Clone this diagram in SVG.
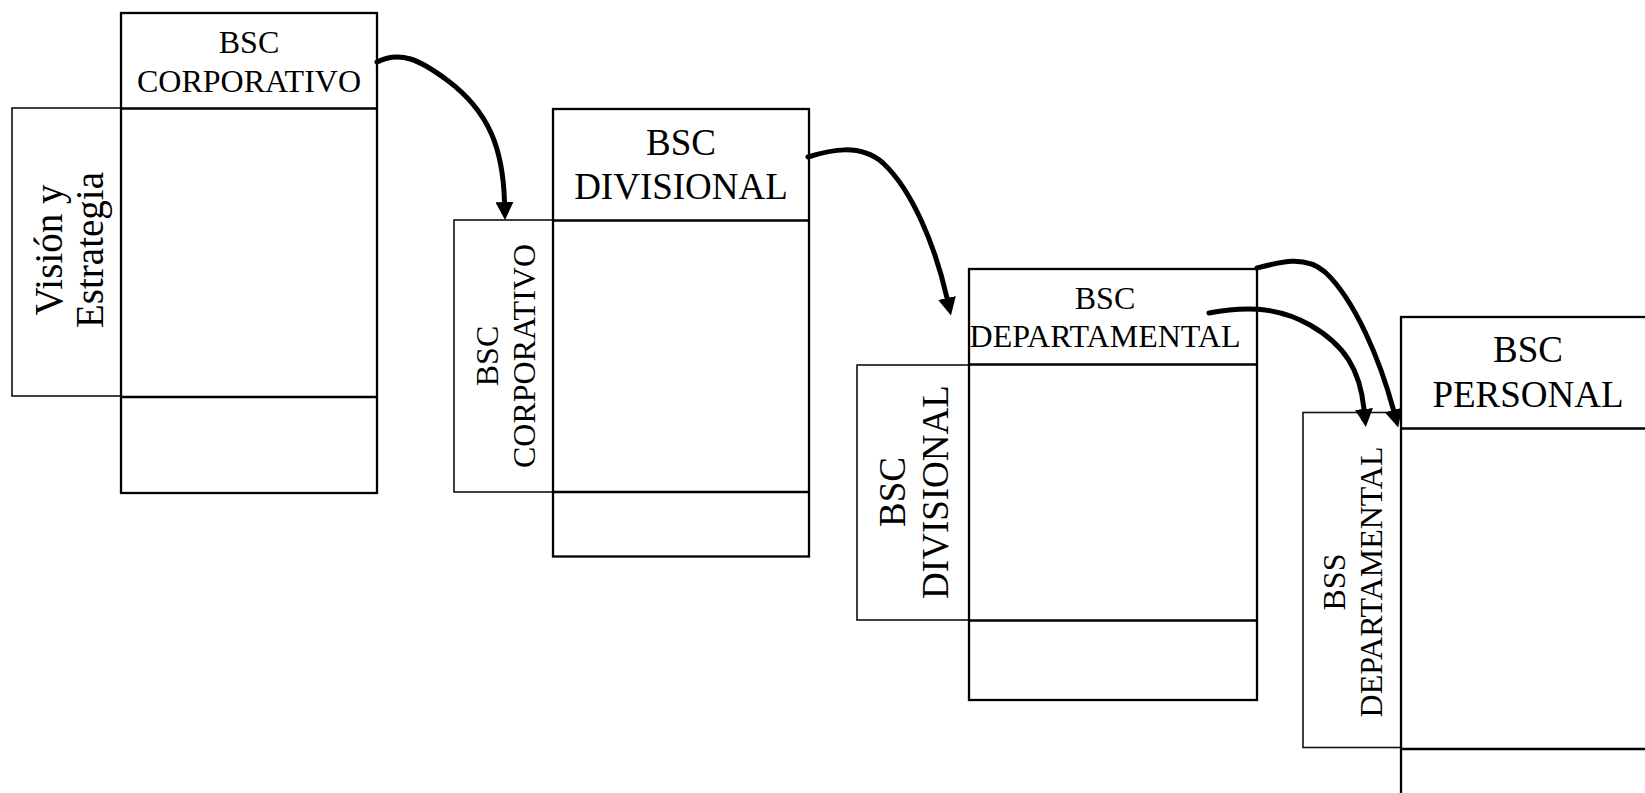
<svg xmlns="http://www.w3.org/2000/svg" width="1645" height="793" viewBox="0 0 1645 793">
<defs>
<style>
.main{fill:#fff;stroke:#000;stroke-width:2.3}
.side{fill:#fff;stroke:#111;stroke-width:1.6}
.div{stroke:#000;stroke-width:2.3}
.t{font-family:"Liberation Serif","Times New Roman",serif;fill:#000;text-anchor:middle}
.s32{font-size:32px}
.s37{font-size:37px}
.s38{font-size:39px}
.arr{fill:none;stroke:#000;stroke-width:5;stroke-linecap:round}
</style>
<marker id="ah" viewBox="0 0 18 18" refX="0" refY="9" markerWidth="18" markerHeight="18" markerUnits="userSpaceOnUse" orient="auto">
<path d="M0,0 L18,9 L0,18 z" fill="#000"/>
</marker>
</defs>
<rect width="1645" height="793" fill="#fff"/>

<g id="node-corporativo">
<rect class="side" x="12" y="108" width="109" height="288"/>
<rect class="main" x="121" y="13" width="256" height="480"/>
<line class="div" x1="121" y1="108.5" x2="377" y2="108.5"/>
<line class="div" x1="121" y1="397" x2="377" y2="397"/>
<text class="t s32" x="249" y="53">BSC</text>
<text class="t s32" x="249" y="92">CORPORATIVO</text>
<g transform="translate(62,250) rotate(-90)">
<text class="t s38" x="0" y="0">Visión y</text>
<text class="t s38" x="0" y="41">Estrategia</text>
</g>
</g>

<g id="node-divisional">
<rect class="side" x="454" y="220" width="99" height="272"/>
<rect class="main" x="553" y="109" width="256" height="447.5"/>
<line class="div" x1="553" y1="220.5" x2="809" y2="220.5"/>
<line class="div" x1="553" y1="492" x2="809" y2="492"/>
<text class="t s37" x="681" y="155">BSC</text>
<text class="t s37" x="681" y="199">DIVISIONAL</text>
<g transform="translate(498,356) rotate(-90)">
<text class="t s32" x="0" y="0">BSC</text>
<text class="t s32" x="0" y="37">CORPORATIVO</text>
</g>
</g>

<g id="node-departamental">
<rect class="side" x="857" y="365" width="112" height="255"/>
<rect class="main" x="969" y="269" width="288" height="431"/>
<line class="div" x1="969" y1="364.5" x2="1257" y2="364.5"/>
<line class="div" x1="969" y1="620.5" x2="1257" y2="620.5"/>
<text class="t s32" x="1105" y="309">BSC</text>
<text class="t s32" x="1105" y="347">DEPARTAMENTAL</text>
<g transform="translate(905,492) rotate(-90)">
<text class="t s37" x="0" y="0">BSC</text>
<text class="t s37" x="0" y="43">DIVISIONAL</text>
</g>
</g>

<g id="node-personal">
<rect class="side" x="1303" y="412.5" width="98" height="335"/>
<rect class="main" x="1401" y="317" width="260" height="490"/>
<line class="div" x1="1401" y1="428.5" x2="1661" y2="428.5"/>
<line class="div" x1="1401" y1="749" x2="1661" y2="749"/>
<text class="t s37" x="1528" y="362">BSC</text>
<text class="t s37" x="1528" y="407">PERSONAL</text>
<g transform="translate(1345,582) rotate(-90)">
<text class="t s32" x="0" y="0">BSS</text>
<text class="t s32" x="0" y="37">DEPARTAMENTAL</text>
</g>
</g>

<g id="connectors">
<path class="arr" marker-end="url(#ah)" d="M377,62 C400,50 420,60 447,80 C490,112 503,150 504.5,202"/>
<path class="arr" marker-end="url(#ah)" d="M808,157 C830,150 860,143 883,163 C912,190 935,245 947,298"/>
<path class="arr" marker-end="url(#ah)" d="M1257,268 C1280,262 1305,255 1325,272 C1355,300 1380,360 1393.5,410"/>
<path class="arr" marker-end="url(#ah)" d="M1209,313 C1240,307 1275,305 1310,325 C1345,345 1360,370 1364,409"/>
</g>
</svg>
